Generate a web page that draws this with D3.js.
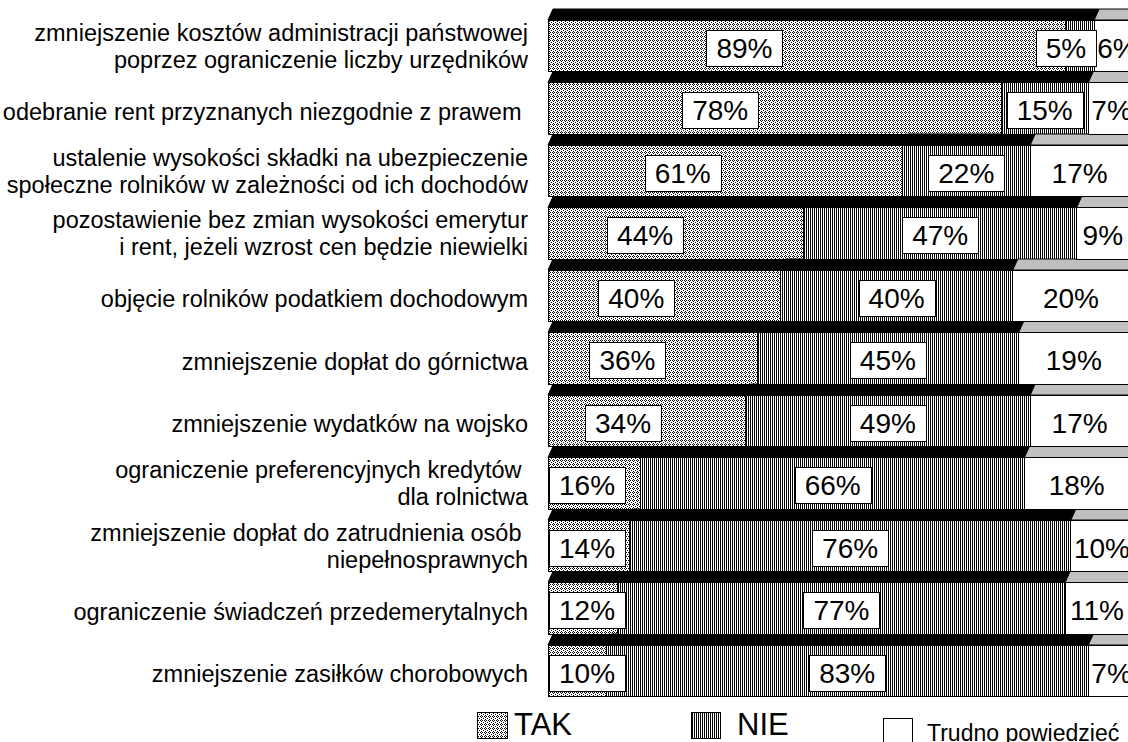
<!DOCTYPE html>
<html><head><meta charset="utf-8">
<script src="https://cdn.jsdelivr.net/npm/d3@7"></script>
<style>
body{margin:0;background:#fff;overflow:hidden}
text{font-family:"Liberation Sans",Arial,Helvetica,sans-serif;fill:#000;white-space:pre}
</style>
</head><body>
<svg id="chart" width="1128" height="742"></svg>
<script>
// ---- data ----
const categories = [
  ["zmniejszenie kosztów administracji państwowej", "poprzez ograniczenie liczby urzędników"],
  ["odebranie rent przyznanych niezgodnie z prawem "],
  ["ustalenie wysokości składki na ubezpieczenie", "społeczne rolników w zależności od ich dochodów"],
  ["pozostawienie bez zmian wysokości emerytur", "i rent, jeżeli wzrost cen będzie niewielki"],
  ["objęcie rolników podatkiem dochodowym"],
  ["zmniejszenie dopłat do górnictwa"],
  ["zmniejszenie wydatków na wojsko"],
  ["ograniczenie preferencyjnych kredytów ", "dla rolnictwa"],
  ["zmniejszenie dopłat do zatrudnienia osób ", "niepełnosprawnych"],
  ["ograniczenie świadczeń przedemerytalnych"],
  ["zmniejszenie zasiłków chorobowych"]
];
const tak    = [89, 78, 61, 44, 40, 36, 34, 16, 14, 12, 10];
const nie    = [5, 15, 22, 47, 40, 45, 49, 66, 76, 77, 83];
const trudno = [6, 7, 17, 9, 20, 19, 17, 18, 10, 11, 7];
const seriesNames = ["TAK", "NIE", "Trudno powiedzieć"];

// ---- setup ----
const svg = d3.select("#chart");

const defs = svg.append("defs");
// TAK: fine dotted dither (light grey look)
const pTak = defs.append("pattern").attr("id", "pTak").attr("patternUnits", "userSpaceOnUse")
  .attr("width", 4).attr("height", 4);
pTak.append("rect").attr("width", 4).attr("height", 4).attr("fill", "#fff");
[[0,0],[2,0],[1,1],[3,2],[1,3]].forEach(([a,b]) =>
  pTak.append("rect").attr("x", a).attr("y", b).attr("width", 1).attr("height", 1).attr("fill", "#000"));
// NIE: vertical lines
const pNie = defs.append("pattern").attr("id", "pNie").attr("patternUnits", "userSpaceOnUse")
  .attr("width", 2).attr("height", 4);
pNie.append("rect").attr("width", 2).attr("height", 4).attr("fill", "#fff");
pNie.append("rect").attr("width", 1).attr("height", 4).attr("fill", "#000");

const fills = ["url(#pTak)", "url(#pNie)", "#fff"];
const topFills = ["#000", "#000", "#c0c0c0"];

const rows = categories.map((c, i) => ({ key: c.join(" "), lines: c, TAK: tak[i], NIE: nie[i], TR: trudno[i] }));
const keys = ["TAK", "NIE", "TR"];
const stacked = d3.stack().keys(keys)(rows);

const x = d3.scaleLinear().domain([0, 100]).range([548, 1129]);
const y = d3.scaleBand().domain(rows.map(r => r.key)).range([9, 696.5]).padding(0);
const depth = 11, dx = 5;
const frontTop = k => y(k) + depth;
const frontH = y.bandwidth() - depth;

const gBars = svg.append("g").attr("shape-rendering", "crispEdges");

stacked.forEach((s, si) => {
  const g = gBars.append("g");
  g.selectAll("path.top").data(s).join("path")
    .attr("class", "top")
    .attr("d", d => {
      const y0 = y(d.data.key), y1 = y0 + depth;
      return `M${x(d[0])},${y1}L${x(d[0]) + dx},${y0}L${x(d[1]) + dx},${y0}L${x(d[1])},${y1}Z`;
    })
    .attr("fill", topFills[si]).attr("stroke", "#000").attr("stroke-width", 1)
    .attr("shape-rendering", "auto");
  g.selectAll("rect.front").data(s).join("rect")
    .attr("class", "front")
    .attr("x", d => x(d[0]))
    .attr("y", d => frontTop(d.data.key))
    .attr("width", d => x(d[1]) - x(d[0]))
    .attr("height", frontH)
    .attr("fill", fills[si]).attr("stroke", "#000").attr("stroke-width", 1);
});

// ---- value labels ----
const gLab = svg.append("g");
const LFS = 28;
const rightEdge = 1127;
stacked.forEach((s, si) => {
  s.forEach(d => {
    const v = d[1] - d[0];
    const cy = frontTop(d.data.key) + frontH / 2 + 2;
    const grp = gLab.append("g");
    const rect = grp.append("rect");
    const t = grp.append("text").text(v + "%")
      .attr("font-size", LFS).attr("text-anchor", "middle")
      .attr("y", cy + LFS * 0.36);
    const tw = t.node().getComputedTextLength();
    const bw = tw + 20, bh = 36;
    let cx;
    if (si === 0) {
      cx = x(d[0] + v * 0.38);
      if (cx - bw / 2 < x(d[0]) + 1) cx = x(d[0]) + 1 + bw / 2;
    } else if (si === 1) {
      cx = (x(d[0]) + x(d[1])) / 2;
      if (bw > x(d[1]) - x(d[0])) cx = x(d[1]) + 2 - bw / 2;
    } else {
      cx = (x(d[0]) + x(d[1])) / 2;
      if (cx + tw / 2 > rightEdge) cx = rightEdge - tw / 2;
      if (cx - tw / 2 < x(d[0]) + 3) cx = x(d[0]) + 3 + tw / 2;
    }
    t.attr("x", cx);
    if (si < 2) {
      rect.attr("x", Math.round(cx - bw / 2) + 0.5).attr("y", Math.round(cy - bh / 2) + 0.5)
        .attr("width", Math.round(bw)).attr("height", bh)
        .attr("fill", "#fff").attr("stroke", "#000").attr("stroke-width", 1);
    } else {
      rect.remove();
    }
  });
});

// ---- category labels ----
const CFS = 23.5, LH = 27;
const gCat = svg.append("g");
rows.forEach(r => {
  const cy = frontTop(r.key) + frontH / 2;
  const n = r.lines.length;
  const off = n === 1 ? 3 : 0;
  r.lines.forEach((ln, li) => {
    const ly = cy + off + (li - (n - 1) / 2) * LH + CFS * 0.36;
    gCat.append("text").attr("x", 528).attr("y", ly)
      .attr("text-anchor", "end").attr("font-size", CFS).text(ln);
  });
});

// ---- legend ----
const legend = [
  { name: seriesNames[0], fill: fills[0], sx: 477, sy: 712, sw: 30, sh: 26, tx: 514, ty: 735, fs: 31 },
  { name: seriesNames[1], fill: fills[1], sx: 691, sy: 712, sw: 29, sh: 26, tx: 737, ty: 735, fs: 31 },
  { name: seriesNames[2], fill: fills[2], sx: 883, sy: 718, sw: 29, sh: 28, tx: 927, ty: 741, fs: 23 }
];
const gLeg = svg.append("g");
legend.forEach(l => {
  gLeg.append("rect").attr("x", l.sx + 0.5).attr("y", l.sy + 0.5).attr("width", l.sw).attr("height", l.sh)
    .attr("fill", l.fill).attr("stroke", "#000").attr("stroke-width", 1).attr("shape-rendering", "crispEdges");
  gLeg.append("text").attr("x", l.tx).attr("y", l.ty).attr("font-size", l.fs).text(l.name);
});
</script>
</body></html>
